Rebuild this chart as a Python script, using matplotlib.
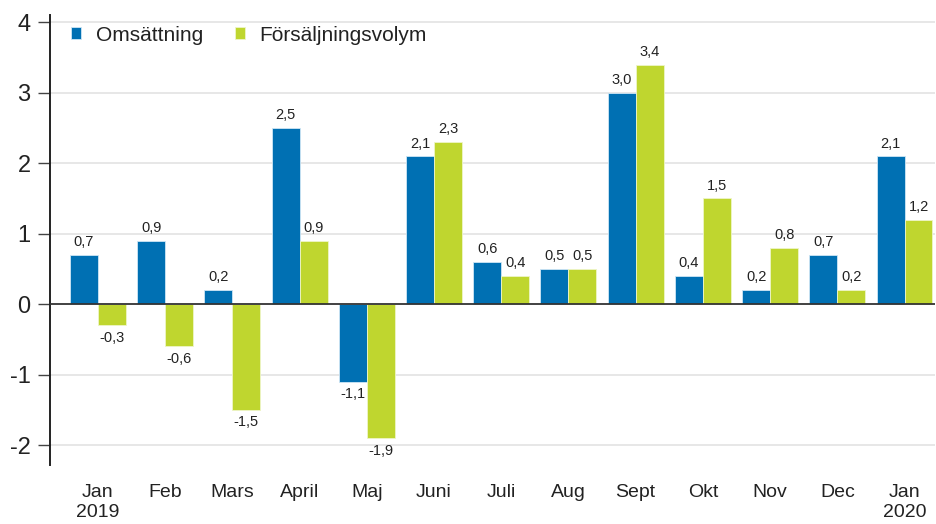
import matplotlib
matplotlib.use("Agg")
import matplotlib.pyplot as plt
import numpy as np

months = ["Jan\n2019", "Feb", "Mars", "April", "Maj", "Juni", "Juli", "Aug",
          "Sept", "Okt", "Nov", "Dec", "Jan\n2020"]
omsattning = [0.7, 0.9, 0.2, 2.5, -1.1, 2.1, 0.6, 0.5, 3.0, 0.4, 0.2, 0.7, 2.1]
volym = [-0.3, -0.6, -1.5, 0.9, -1.9, 2.3, 0.4, 0.5, 3.4, 1.5, 0.8, 0.2, 1.2]
series_names = ["Omsättning", "Försäljningsvolym"]
yticks = [-2, -1, 0, 1, 2, 3, 4]

plt.rcParams['font.family'] = ['Liberation Sans', 'DejaVu Sans']

blue = "#0070B3"
green = "#BFD62F"

fig = plt.figure(figsize=(9.36, 5.24), dpi=100)
ax = fig.add_axes([0.0534, 0.113, 0.946, 0.858])

x = np.arange(len(months))
w = 0.416
b1 = ax.bar(x - w / 2, omsattning, w, color=blue, edgecolor="#cfe6f5", linewidth=0.6,
            label=series_names[0], zorder=3)
b2 = ax.bar(x + w / 2, volym, w, color=green, edgecolor="#eef5c8", linewidth=0.6,
            label=series_names[1], zorder=3)

def fmt(v):
    return ("%.1f" % v).replace(".", ",")

for bars, vals in ((b1, omsattning), (b2, volym)):
    for rect, v in zip(bars, vals):
        cx = rect.get_x() + rect.get_width() / 2
        if v >= 0:
            ax.annotate(fmt(v), (cx, v), xytext=(0, 4), textcoords="offset points",
                        ha="center", va="bottom", fontsize=10.5, color="#222222")
        else:
            ax.annotate(fmt(v), (cx, v), xytext=(0, -4), textcoords="offset points",
                        ha="center", va="top", fontsize=10.5, color="#222222")

ax.set_xlim(-0.714, 12.46)
ax.set_ylim(-2.28, 4.1)
ax.set_yticks(yticks)
ax.set_yticklabels([str(t) for t in yticks], fontsize=17, color="#222222")
ax.set_xticks(x)
ax.set_xticklabels(months, fontsize=14, color="#222222")
ax.tick_params(axis="x", length=0, pad=14)
ax.tick_params(axis="y", length=9, width=1.0, color="#444444", pad=5)

for t in yticks:
    if t != 0:
        ax.axhline(t, color="#e3e3e3", linewidth=1.2, zorder=1)
ax.axhline(0, color="#333333", linewidth=1.3, zorder=4)

for s in ["top", "right", "bottom"]:
    ax.spines[s].set_visible(False)
ax.spines["left"].set_color("#222222")
ax.spines["left"].set_linewidth(1.4)

leg = ax.legend(loc="upper left", ncol=2, frameon=False, fontsize=15,
                handlelength=0.5, handleheight=0.5, handletextpad=0.7,
                columnspacing=1.5, bbox_to_anchor=(0.012, 1.0), borderaxespad=0.1)
for t in leg.get_texts():
    t.set_color("#222222")

fig.savefig("out.png", dpi=100)
